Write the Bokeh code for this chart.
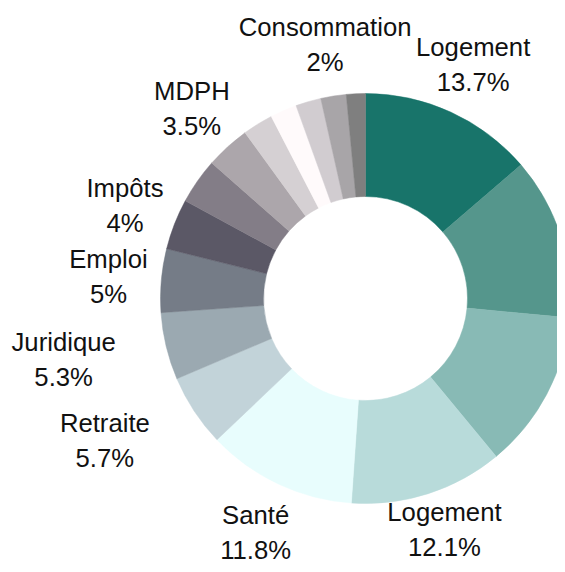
import math
from bokeh.plotting import figure
from bokeh.models import Range1d, ColumnDataSource
from bokeh.core.properties import value
from bokeh.embed import file_html
from bokeh.resources import INLINE

# ---- data ----
categories = ["Logement", "", "", "Logement", "Santé", "Retraite", "Juridique",
              "Emploi", "Impôts", "", "MDPH", "", "", "", "Consommation", ""]
shares = [13.7, 12.8, 12.5, 12.1, 11.8, 5.7, 5.3, 5.0, 4.0, 3.6, 3.5, 2.4, 2.1, 2.0, 2.0, 1.5]
colors = ["#18746a", "#55968c", "#88bab5", "#b8dbda", "#e8fdfd", "#c2d3d9", "#9ba9b1",
          "#757c87", "#5b5866", "#837d87", "#aca6ab", "#d5d0d3", "#fffafb", "#d1ccd0",
          "#a8a5a8", "#7f7f7f"]

# ---- layout ----
W, H = 557, 564
CX, CY = 365, H - 298
R_OUT, R_IN, R_LAB = 205, 102, 258
label_shift = {6: (-51, 0), 5: (-45, 0), 3: (0, 15)}   # index -> (dx, dy up)
FONT = "Liberation Sans"

total = sum(shares)
starts, ends = [], []
acc = 0.0
for v in shares:
    a0 = acc / total * 2 * math.pi
    acc += v
    a1 = acc / total * 2 * math.pi
    starts.append(math.pi / 2 - a0)
    ends.append(math.pi / 2 - a1)

p = figure(width=W, height=H, output_backend="svg", toolbar_location=None,
           x_range=Range1d(0, W), y_range=Range1d(0, H), min_border=0)
p.axis.visible = False
p.grid.visible = False
p.outline_line_color = None
p.background_fill_color = "white"

src = ColumnDataSource(dict(start=starts, end=ends, color=colors))
p.annular_wedge(x=CX, y=CY, inner_radius=R_IN, outer_radius=R_OUT,
                start_angle="start", end_angle="end", direction="clock",
                fill_color="color", line_color="color", line_width=0.5, source=src)

lx, ly, names, pcts = [], [], [], []
acc = 0.0
for i, (name, v) in enumerate(zip(categories, shares)):
    mid = (acc + v / 2) / total * 2 * math.pi
    acc += v
    if not name:
        continue
    dx, dy = label_shift.get(i, (0, 0))
    lx.append(CX + R_LAB * math.sin(mid) + dx)
    ly.append(CY + R_LAB * math.cos(mid) + dy)
    names.append(name)
    pcts.append(f"{v:g}%")

lsrc = ColumnDataSource(dict(x=lx, y=ly, name=names, pct=pcts))
p.text(x="x", y="y", text="name", source=lsrc, y_offset=-17,
       text_align="center", text_baseline="middle",
       text_font=value(FONT), text_font_size="25.7px", text_color="#111111")
p.text(x="x", y="y", text="pct", source=lsrc, y_offset=18,
       text_align="center", text_baseline="middle",
       text_font=value(FONT), text_font_size="25.7px", text_color="#111111")

open("out.html", "w").write(file_html(p, INLINE))
